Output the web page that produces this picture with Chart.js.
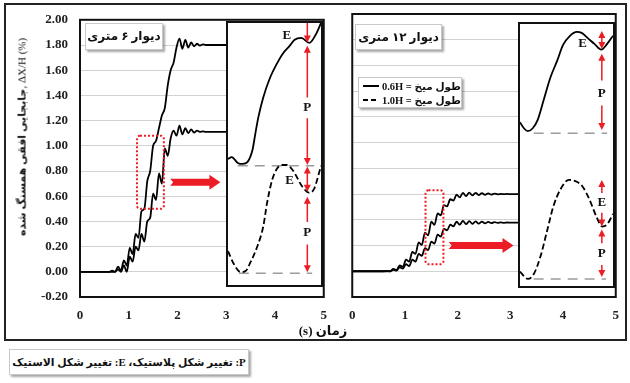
<!DOCTYPE html>
<html>
<head>
<meta charset="utf-8">
<script src="https://cdn.jsdelivr.net/npm/chart.js@4.4.1/dist/chart.umd.min.js"></script>
<style>
html,body{margin:0;padding:0;background:#fff;}
body{width:630px;height:383px;position:relative;overflow:hidden;font-family:"Liberation Serif","DejaVu Sans",serif;color:#111;}
canvas{position:absolute;display:block;}
.frame{position:absolute;left:4px;top:3px;width:623px;height:338px;box-sizing:border-box;border:2px solid #222;}
.inset{position:absolute;box-sizing:border-box;border:2px solid #111;background:#fff;}
.note{position:absolute;box-sizing:border-box;background:#fff;border:1px solid #c9c9c9;box-shadow:2px 2px 2px rgba(0,0,0,.35);font-weight:bold;white-space:nowrap;}
.row{display:flex;align-items:center;height:14px;}
.sample{display:inline-block;width:21px;height:2px;margin-right:3px;}
.solid{background:#000;}
.dashed{background:repeating-linear-gradient(90deg,#000 0 5px,transparent 5px 8px);}
.leg{font-size:10.5px;}
</style>
</head>
<body>
<div class="frame"></div>
<canvas id="mainLeft" width="338" height="345" style="left:0;top:0"></canvas>
<canvas id="mainRight" width="292" height="345" style="left:338px;top:0"></canvas>

<div class="inset" style="left:226px;top:21px;width:97px;height:266px"><canvas id="insetLeft" width="93" height="262" style="left:0;top:0"></canvas></div>
<div class="inset" style="left:518px;top:22px;width:97px;height:266px"><canvas id="insetRight" width="93" height="262" style="left:0;top:0"></canvas></div>

<div class="note" dir="rtl" style="left:85px;top:23px;width:78px;height:27px;line-height:25px;text-align:center;font-size:12px">دیوار ۶ متری</div>
<div class="note" dir="rtl" style="left:355px;top:24px;width:87px;height:26px;line-height:24px;text-align:center;font-size:12px">دیوار ۱۲ متری</div>

<div class="note" style="left:358px;top:77px;width:104px;height:31px;padding:1px 0 0 4px;">
  <div class="row"><span class="sample solid"></span><span class="leg" dir="rtl" id="leg06"></span></div>
  <div class="row"><span class="sample dashed"></span><span class="leg" dir="rtl" id="leg10"></span></div>
</div>

<div style="position:absolute;left:22px;top:137px;transform:translate(-50%,-50%) rotate(-90deg);white-space:nowrap;font-size:11px;"><b>جابجایی افقی همسنگ شده</b>, ΔX/H (%)</div>
<div dir="rtl" style="position:absolute;left:323px;top:331px;transform:translate(-50%,-50%);white-space:nowrap;font-weight:bold;font-size:13px;">زمان (s)</div>

<div class="note" dir="rtl" style="left:9px;top:349px;width:240px;height:26px;line-height:24px;text-align:center;font-size:10.8px">P: تغییر شکل پلاستیک، E: تغییر شکل الاستیک</div>

<script>
// ---- time histories of normalised lateral drift (%) ----
const seriesNames = ['طول میخ = 0.6H', 'طول میخ = 1.0H'];

// 6 m wall
const timeLeft = [0, 0.60, 0.66, 0.72, 0.78, 0.84, 0.90, 0.96, 1.02, 1.08, 1.14, 1.20, 1.26, 1.32, 1.38, 1.44,
  1.50, 1.56, 1.62, 1.68, 1.74, 1.80, 1.86, 1.92, 1.98, 2.04, 2.10, 2.16, 2.22, 2.28, 2.34, 2.40, 2.46,
  2.52, 2.58, 2.64, 2.70, 2.76, 2.82, 2.88, 2.94, 3.00];
const driftLeft06 = [0, 0.00, 0.01, 0.00, 0.04, 0.01, 0.09, 0.05, 0.19, 0.14, 0.30, 0.27, 0.48, 0.50, 0.72, 0.80,
  1.00, 1.04, 1.14, 1.24, 1.30, 1.48, 1.60, 1.66, 1.78, 1.85, 1.77, 1.84, 1.78, 1.82, 1.79, 1.81, 1.795,
  1.805, 1.80, 1.80, 1.80, 1.80, 1.80, 1.80, 1.80, 1.80];
const driftLeft10 = [0, 0.00, 0.00, 0.00, 0.02, 0.00, 0.05, 0.00, 0.12, 0.08, 0.20, 0.17, 0.30, 0.24, 0.40, 0.43,
  0.62, 0.57, 0.78, 0.70, 0.98, 0.92, 1.06, 1.12, 1.08, 1.16, 1.09, 1.14, 1.10, 1.13, 1.105, 1.12, 1.11,
  1.115, 1.11, 1.11, 1.11, 1.11, 1.11, 1.11, 1.11, 1.11];

// 12 m wall
const timeRight = [0, 0.60, 0.66, 0.72, 0.78, 0.84, 0.90, 0.96, 1.02, 1.08, 1.14, 1.20, 1.26, 1.32, 1.38, 1.44,
  1.50, 1.56, 1.62, 1.68, 1.74, 1.80, 1.86, 1.92, 1.98, 2.04, 2.10, 2.16, 2.22, 2.28, 2.34, 2.40, 2.46,
  2.52, 2.58, 2.64, 2.70, 2.76, 2.82, 2.88, 2.94, 3.00, 3.06, 3.12, 3.18];
const driftRight06 = [0, 0.000, 0.002, 0.000, 0.018, 0.010, 0.045, 0.035, 0.090, 0.075, 0.150, 0.135, 0.225, 0.205,
  0.300, 0.280, 0.385, 0.360, 0.450, 0.435, 0.515, 0.505, 0.560, 0.550, 0.595, 0.575, 0.610, 0.585, 0.612,
  0.590, 0.610, 0.592, 0.608, 0.594, 0.606, 0.596, 0.604, 0.598, 0.602, 0.599, 0.601, 0.600, 0.600, 0.600, 0.600];
const driftRight10 = [0, 0.000, 0.000, 0.000, 0.012, 0.005, 0.030, 0.020, 0.055, 0.040, 0.090, 0.075, 0.135, 0.120,
  0.180, 0.165, 0.230, 0.215, 0.285, 0.270, 0.330, 0.318, 0.362, 0.350, 0.385, 0.362, 0.392, 0.366, 0.390,
  0.368, 0.388, 0.370, 0.386, 0.372, 0.384, 0.374, 0.382, 0.376, 0.380, 0.377, 0.379, 0.378, 0.378, 0.378, 0.378];

// axis ranges
const timeTicks = [0, 1, 2, 3, 4, 5];
const driftTicks = [-0.20, 0.00, 0.20, 0.40, 0.60, 0.80, 1.00, 1.20, 1.40, 1.60, 1.80, 2.00];

// highlighted window [t0, t1, v0, v1] and pointer arrow [t0, t1, v]
const windowLeft = [1.17, 1.72, 0.50, 1.08];
const pointerLeft = [1.85, 2.88, 0.71];
const windowRight = [1.39, 1.73, 0.055, 0.63];
const pointerRight = [1.83, 3.06, 0.20];

// ---- close-up sketches, box units 0-100 ----
const sketchLeftSolid = [[0, 48.1], [4, 48.8], [10.5, 46.6], [15.8, 46.2], [21.1, 47.0], [26.3, 51.5], [29.5, 58.0],
  [32.6, 64.0], [37.9, 71.6], [45.3, 79.2], [52.6, 84.5], [58.9, 88.3], [66.3, 91.3], [71.6, 93.6], [78.9, 94.3],
  [87.4, 92.4], [94.7, 95.8], [100, 100]];
const sketchLeftDashed = [[0, 12.9], [6.3, 8.0], [13.7, 4.9], [18.9, 5.3], [24.2, 8.7], [31.6, 14.8], [37.9, 22.3],
  [42.1, 31.5], [47.4, 40.0], [52.6, 44.4], [57.9, 45.8], [63.2, 45.8], [69.5, 43.9], [80.0, 37.5], [87.4, 35.2],
  [92.6, 36.7], [97.9, 42.8], [100, 45.5]];
const sketchRightSolid = [[0, 62.5], [4.2, 60.2], [8.4, 59.1], [13.7, 60.2], [18.9, 63.3], [25.3, 70.8], [32.6, 79.5],
  [40.0, 86.0], [46.3, 92.0], [53.7, 95.5], [61.1, 97.0], [66.3, 96.6], [72.6, 94.7], [80.0, 92.4], [87.4, 90.2],
  [93.7, 92.4], [100, 95.5]];
const sketchRightDashed = [[0, 5.5], [8.4, 2.7], [14.7, 4.5], [22.1, 11.4], [29.5, 21.6], [35.8, 30.3], [43.2, 36.7],
  [52.6, 40.5], [61.1, 39.8], [67.4, 37.9], [74.7, 33.0], [82.1, 26.5], [88.4, 22.7], [93.7, 23.5], [100, 27.5]];
// reference levels [x0, x1, level]
const levelsLeft = [[10.5, 92.6, 45.5], [11.6, 90.5, 4.5]];
const levelsRight = [[14.7, 93.7, 58.3], [14.7, 92.6, 2.7]];
// elastic / plastic spans [x, top, bottom, headUp, headDown, gapTop, gapBottom]
const spansLeft = [[85.3, 100, 92.6, 0, 1, null, null], [85.3, 91.3, 45.8, 1, 1, 71.6, 63.6],
  [85.3, 45.2, 35.6, 1, 1, null, null], [85.3, 33.7, 4.9, 1, 1, 24.0, 15.5]];
const spansRight = [[88, 97.3, 90.5, 1, 1, null, null], [88, 88.6, 59.5, 1, 1, 78.4, 68.9],
  [88, 40.5, 22.7, 1, 1, 35.5, 28.0], [88, 21.6, 3.4, 1, 1, 16.3, 8.0]];
// span labels [text, x, y]
const tagsLeft = [['E', 63.2, 95.1], ['P', 85.3, 67.6], ['E', 66.3, 39.8], ['P', 85.3, 19.8]];
const tagsRight = [['E', 67.4, 92.6], ['P', 88, 73.6], ['E', 88, 31.8], ['P', 88, 12.2]];

document.getElementById('leg06').textContent = seriesNames[0];
document.getElementById('leg10').textContent = seriesNames[1];

const RED = '#ec1c24';
const tickFont = { family: '"Liberation Serif", serif', size: 13, weight: 'bold' };
const pairs = (xs, ys) => xs.map((x, i) => ({ x, y: ys[i] }));
const pts = arr => arr.map(([x, y]) => ({ x, y }));

// plot frame, dotted window and pointer arrow of each main panel
const panelMarks = {
  id: 'panelMarks',
  afterDatasetsDraw(chart, args, o) {
    const { ctx, chartArea: a, scales: { x, y } } = chart;
    ctx.save();
    ctx.strokeStyle = '#111';
    ctx.lineWidth = 2;
    ctx.strokeRect(a.left, a.top, a.right - a.left, a.bottom - a.top);

    const [t0, t1, v0, v1] = o.window;
    const wx0 = x.getPixelForValue(t0), wx1 = x.getPixelForValue(t1);
    const wy0 = y.getPixelForValue(v1), wy1 = y.getPixelForValue(v0);
    ctx.strokeStyle = RED;
    ctx.lineWidth = 2;
    ctx.setLineDash([2, 2]);
    ctx.beginPath();
    ctx.roundRect(wx0, wy0, wx1 - wx0, wy1 - wy0, 3);
    ctx.stroke();
    ctx.setLineDash([]);

    const [s0, s1, v] = o.pointer;
    const xa = x.getPixelForValue(s0), xb = x.getPixelForValue(s1), ya = y.getPixelForValue(v);
    ctx.fillStyle = RED;
    ctx.beginPath();
    ctx.moveTo(xa, ya - 3.5);
    ctx.lineTo(xb - 11, ya - 3.5);
    ctx.lineTo(xb - 11, ya - 7.5);
    ctx.lineTo(xb, ya);
    ctx.lineTo(xb - 11, ya + 7.5);
    ctx.lineTo(xb - 11, ya + 3.5);
    ctx.lineTo(xa, ya + 3.5);
    ctx.lineTo(xa + 3, ya);
    ctx.closePath();
    ctx.fill();
    ctx.restore();
  }
};

function mainChart(id, time, a, b, o) {
  return new Chart(document.getElementById(id), {
    type: 'line',
    data: {
      datasets: [
        { label: seriesNames[0], data: pairs(time, a), borderColor: '#000', borderWidth: 1.8, pointRadius: 0, cubicInterpolationMode: 'monotone', fill: false },
        { label: seriesNames[1], data: pairs(time, b), borderColor: '#000', borderWidth: 1.8, pointRadius: 0, cubicInterpolationMode: 'monotone', fill: false }
      ]
    },
    options: {
      responsive: false, animation: false, events: [],
      layout: { padding: o.padding },
      plugins: { legend: { display: false }, tooltip: { enabled: false }, panelMarks: { window: o.window, pointer: o.pointer } },
      scales: {
        x: {
          type: 'linear', min: timeTicks[0], max: timeTicks[timeTicks.length - 1],
          afterBuildTicks: s => { s.ticks = timeTicks.map(value => ({ value })); },
          ticks: { padding: 11, font: tickFont, color: '#222', callback: v => String(v) },
          grid: { display: false, drawTicks: false }, border: { display: false },
          afterFit: s => { s.height = 30; }
        },
        y: {
          type: 'linear', min: driftTicks[0], max: driftTicks[driftTicks.length - 1],
          afterBuildTicks: s => { s.ticks = driftTicks.map(value => ({ value })); },
          ticks: { display: o.yLabels, padding: 12, font: tickFont, color: '#222', callback: v => (Math.abs(v) < 1e-9 ? 0 : v).toFixed(2) },
          grid: { color: '#d2d2d2', lineWidth: 1, drawTicks: false }, border: { display: false },
          afterFit: s => { s.width = o.yWidth; }
        }
      }
    },
    plugins: [panelMarks]
  });
}

mainChart('mainLeft', timeLeft, driftLeft06, driftLeft10, {
  padding: { top: 14, right: 10, bottom: 18, left: 0 }, yWidth: 80, yLabels: true,
  window: windowLeft, pointer: pointerLeft
});
mainChart('mainRight', timeRight, driftRight06, driftRight10, {
  padding: { top: 14, right: 8, bottom: 18, left: 0 }, yWidth: 10, yLabels: false,
  window: windowRight, pointer: pointerRight
});

// red E / P spans and their letters inside a close-up
const sketchMarks = {
  id: 'sketchMarks',
  afterDatasetsDraw(chart, args, o) {
    const { ctx, scales: { x, y } } = chart;
    ctx.save();
    ctx.strokeStyle = RED;
    ctx.fillStyle = RED;
    ctx.lineWidth = 1.5;
    const head = (px, py, dir) => {
      ctx.beginPath();
      ctx.moveTo(px, py);
      ctx.lineTo(px - 3.5, py + dir * 7);
      ctx.lineTo(px + 3.5, py + dir * 7);
      ctx.closePath();
      ctx.fill();
    };
    for (const [sx, top, bottom, up, down, g0, g1] of o.spans) {
      const px = x.getPixelForValue(sx);
      const pt = y.getPixelForValue(top), pb = y.getPixelForValue(bottom);
      ctx.beginPath();
      if (g0 !== null) {
        ctx.moveTo(px, pt + (up ? 5 : 0)); ctx.lineTo(px, y.getPixelForValue(g0));
        ctx.moveTo(px, y.getPixelForValue(g1)); ctx.lineTo(px, pb - (down ? 5 : 0));
      } else {
        ctx.moveTo(px, pt + (up ? 5 : 0)); ctx.lineTo(px, pb - (down ? 5 : 0));
      }
      ctx.stroke();
      if (up) head(px, pt, 1);
      if (down) head(px, pb, -1);
    }
    ctx.fillStyle = '#111';
    ctx.font = 'bold 13px "Liberation Serif", serif';
    ctx.textAlign = 'center';
    ctx.textBaseline = 'middle';
    for (const [t, tx, ty] of o.tags) ctx.fillText(t, x.getPixelForValue(tx), y.getPixelForValue(ty));
    ctx.restore();
  }
};

function sketchChart(id, solid, dashed, levels, spans, tags) {
  return new Chart(document.getElementById(id), {
    type: 'line',
    data: {
      datasets: [
        { data: pts(solid), borderColor: '#000', borderWidth: 1.8, pointRadius: 0, cubicInterpolationMode: 'monotone' },
        { data: pts(dashed), borderColor: '#000', borderWidth: 1.8, borderDash: [6, 3], pointRadius: 0, cubicInterpolationMode: 'monotone' },
        ...levels.map(([x0, x1, v]) => ({ data: [{ x: x0, y: v }, { x: x1, y: v }], borderColor: '#9c9c9c', borderWidth: 1.6, borderDash: [10, 7], pointRadius: 0 }))
      ]
    },
    options: {
      responsive: false, animation: false, events: [],
      layout: { padding: 0 },
      plugins: { legend: { display: false }, tooltip: { enabled: false }, sketchMarks: { spans, tags } },
      scales: {
        x: { type: 'linear', display: false, min: 0, max: 100 },
        y: { type: 'linear', display: false, min: 0, max: 100 }
      }
    },
    plugins: [sketchMarks]
  });
}

sketchChart('insetLeft', sketchLeftSolid, sketchLeftDashed, levelsLeft, spansLeft, tagsLeft);
sketchChart('insetRight', sketchRightSolid, sketchRightDashed, levelsRight, spansRight, tagsRight);
</script>
</body>
</html>
